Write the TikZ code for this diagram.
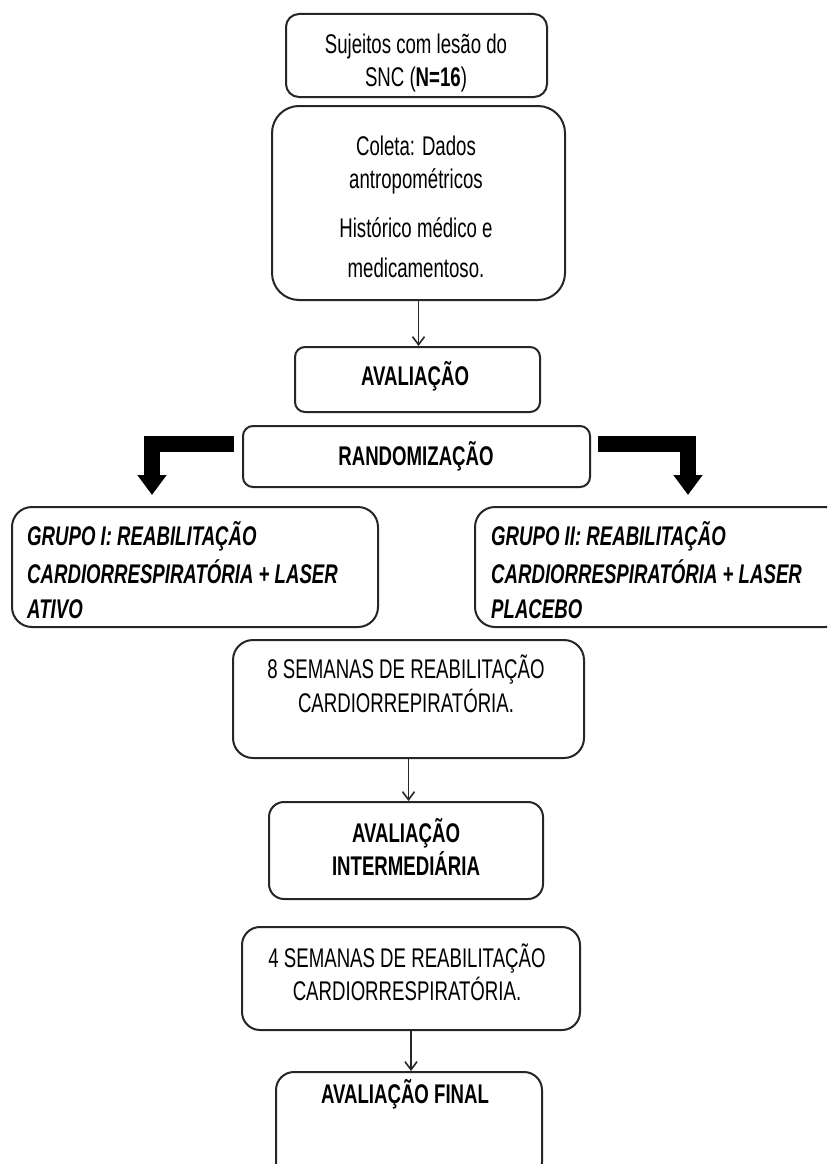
\documentclass[tikz,border=0pt]{standalone}
\usepackage{fontspec}
\setmainfont[FakeStretch=0.69]{Liberation Sans}
\usetikzlibrary{arrows.meta,calc}
\begin{document}
\begin{tikzpicture}[x=1pt,y=-1pt,
  box/.style={draw=black!85, line width=2pt, rounded corners=#1, inner sep=0pt},
  box/.default=12pt,
  txt/.style={anchor=base, inner sep=0pt, font=\fontsize{27}{32}\selectfont},
  btxt/.style={anchor=base, inner sep=0pt, font=\fontsize{27}{32}\selectfont\bfseries},
  gtxt/.style={anchor=base west, inner sep=0pt, font=\fontsize{27}{32}\selectfont\bfseries\itshape},
  arr/.style={draw=black!85, line width=1.6pt, -{Straight Barb[length=8pt,width=12pt]}},
  fat/.style={draw=black, line width=16pt, line join=miter, -{Triangle[length=20pt,width=28pt]}}]
\useasboundingbox (0,0) rectangle (827,1164);
\clip (0,0) rectangle (827,1164);
\fill[white] (0,0) rectangle (827,1164);

% boxes
\node[box=13pt, minimum width=261pt, minimum height=83pt] (b1) at (416.5,55.5) {};
\node[box=27pt, minimum width=293pt, minimum height=194pt] (b2) at (418.5,203) {};
\node[box=10pt, minimum width=245pt, minimum height=65pt] (b3) at (417.5,379.5) {};
\node[box=10pt, minimum width=347pt, minimum height=61pt] (b4) at (416.5,456.5) {};
\node[box=20pt, minimum width=366pt, minimum height=120pt] (g1) at (195,567) {};
\node[box=20pt, minimum width=370pt, minimum height=120pt] (g2) at (660,567) {};
\node[box=20pt, minimum width=351pt, minimum height=118pt] (b5) at (408.5,699) {};
\node[box=15pt, minimum width=274pt, minimum height=97pt] (b6) at (406,850.5) {};
\node[box=18pt, minimum width=338pt, minimum height=103pt] (b7) at (411,978.5) {};
\node[box=18pt, minimum width=266pt, minimum height=108pt] (b8) at (409,1126) {};

% texts
\node[txt] (t1a) at (416,53) {Sujeitos com lesão do};
\node[txt] (t1b) at (416,86) {SNC (\textbf{N=16})};
\node[txt] (t2a) at (416,155) {Coleta: Dados};
\node[txt] (t2b) at (416,188) {antropométricos};
\node[txt] (t2c) at (416,237) {Histórico médico e};
\node[txt] (t2d) at (416,277) {medicamentoso.};
\node[btxt] (t3) at (415,385) {AVALIAÇÃO};
\node[btxt] (t4) at (416,465) {RANDOMIZAÇÃO};
\node[gtxt] (tg1a) at (27,545) {GRUPO I: REABILITAÇÃO};
\node[gtxt] (tg1b) at (27,583) {CARDIORRESPIRATÓRIA + LASER};
\node[gtxt] (tg1c) at (27,618) {ATIVO};
\node[gtxt] (tg2a) at (491,545) {GRUPO II: REABILITAÇÃO};
\node[gtxt] (tg2b) at (491,583) {CARDIORRESPIRATÓRIA + LASER};
\node[gtxt] (tg2c) at (491,618) {PLACEBO};
\node[txt] (t5a) at (406,678) {8 SEMANAS DE REABILITAÇÃO};
\node[txt] (t5b) at (406,712) {CARDIORREPIRATÓRIA.};
\node[btxt] (t6a) at (406,842) {AVALIAÇÃO};
\node[btxt] (t6b) at (406,875) {INTERMEDIÁRIA};
\node[txt] (t7a) at (407,967) {4 SEMANAS DE REABILITAÇÃO};
\node[txt] (t7b) at (407,1000) {CARDIORRESPIRATÓRIA.};
\node[btxt] (t8) at (405,1103) {AVALIAÇÃO FINAL};

% thin arrows
\draw[arr] (b2.south) -- (b2.south |- b3.north);
\draw[arr] (b5.south) -- (b5.south |- b6.north);
\draw[arr] (b7.south) -- (b7.south |- b8.north);

% fat arrows
\coordinate (lt) at (152,495);
\coordinate (rt) at (688,495);
\draw[fat] ($(b4.west)+(-8,-12.5)$) -| (lt);
\draw[fat] ($(b4.east)+(7,-12.5)$) -| (rt);
\end{tikzpicture}
\end{document}
